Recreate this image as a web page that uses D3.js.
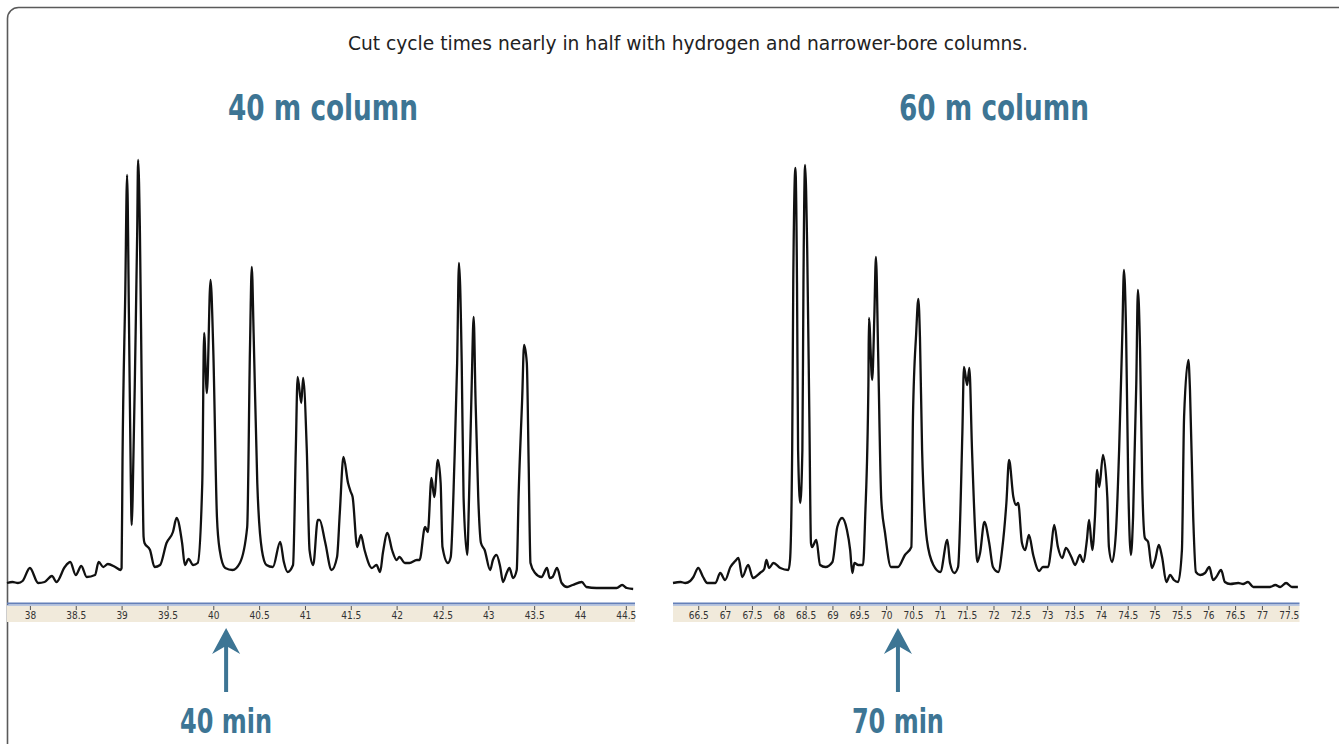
<!DOCTYPE html>
<html>
<head>
<meta charset="utf-8">
<script src="https://cdn.jsdelivr.net/npm/d3@7"></script>
<style>
  html, body { margin: 0; padding: 0; background: #fff; overflow: hidden; }
  svg { display: block; }
  .cond { font-family: "DejaVu Sans Condensed", "Liberation Sans Narrow", "Liberation Sans", sans-serif; }
</style>
</head>
<body>
<div id="chart"></div>
<script>
const headline = "Cut cycle times nearly in half with hydrogen and narrower-bore columns.";
const panelTitles = ["40 m column", "60 m column"];
const runLabels = ["40 min", "70 min"];
const arrowTimes = [40.14, 70.22];

const col40Ticks = [38, 38.5, 39, 39.5, 40, 40.5, 41, 41.5, 42, 42.5, 43, 43.5, 44, 44.5];
const col60Ticks = [66.5, 67, 67.5, 68, 68.5, 69, 69.5, 70, 70.5, 71, 71.5, 72, 72.5, 73, 73.5, 74, 74.5, 75, 75.5, 76, 76.5, 77, 77.5];

// [retention time (min), detector signal]
const col40Trace = [
  [37.75,7],[37.81,8],[37.87,7],[37.92,9],[38.00,22],[38.09,7],[38.16,8],[38.24,14],[38.29,8],[38.38,23],
  [38.44,28],[38.50,15],[38.56,24],[38.62,13],[38.71,15],[38.75,28],[38.80,23],[38.85,26],[38.93,23],[38.99,20],
  [39.00,22],[39.01,130],[39.04,297],[39.06,415],[39.08,273],[39.10,113],[39.11,65],[39.12,90],[39.15,240],[39.17,357],
  [39.18,430],[39.20,357],[39.22,197],[39.24,53],[39.25,47],[39.31,40],[39.36,23],[39.42,25],[39.49,47],[39.56,58],
  [39.60,72],[39.66,47],[39.69,25],[39.73,31],[39.78,25],[39.83,27],[39.88,107],[39.90,257],[39.93,197],[39.97,310],
  [40.00,240],[40.04,73],[40.07,40],[40.13,22],[40.21,20],[40.29,27],[40.37,63],[40.40,240],[40.42,323],[40.44,257],
  [40.48,107],[40.53,40],[40.58,25],[40.65,23],[40.73,48],[40.77,28],[40.81,18],[40.87,25],[40.90,140],[40.92,213],
  [40.96,187],[40.98,212],[41.02,140],[41.05,40],[41.09,25],[41.14,70],[41.16,70],[41.22,48],[41.29,20],[41.35,33],
  [41.38,77],[41.42,133],[41.47,107],[41.50,98],[41.52,93],[41.57,43],[41.61,55],[41.65,40],[41.73,22],[41.78,25],
  [41.82,18],[41.85,37],[41.90,57],[41.95,40],[42.00,30],[42.03,33],[42.09,27],[42.14,27],[42.22,30],[42.25,30],
  [42.31,63],[42.34,58],[42.38,112],[42.41,93],[42.45,130],[42.48,107],[42.50,43],[42.56,27],[42.59,33],[42.63,127],
  [42.66,227],[42.68,327],[42.71,227],[42.73,93],[42.77,35],[42.79,93],[42.82,210],[42.84,273],[42.86,193],[42.89,93],
  [42.92,47],[42.96,40],[43.02,20],[43.05,30],[43.09,35],[43.13,23],[43.16,8],[43.20,17],[43.23,22],[43.27,12],
  [43.31,20],[43.33,93],[43.37,193],[43.39,245],[43.42,227],[43.44,127],[43.46,27],[43.51,17],[43.58,13],[43.64,22],
  [43.67,12],[43.70,13],[43.75,22],[43.80,7],[43.86,3],[43.92,5],[44.02,8],[44.07,3],[44.18,2],[44.29,2],
  [44.40,2],[44.46,5],[44.51,2],[44.58,1]
];

// [retention time (min), detector signal]
const col60Trace = [
  [66.03,7],[66.17,8],[66.26,7],[66.35,9],[66.41,13],[66.50,22],[66.59,13],[66.67,7],[66.82,7],[66.91,17],
  [67.00,10],[67.10,23],[67.19,29],[67.25,32],[67.32,13],[67.43,25],[67.52,12],[67.65,17],[67.73,21],[67.77,30],
  [67.82,22],[67.90,27],[68.03,22],[68.18,20],[68.21,30],[68.25,140],[68.27,307],[68.31,422],[68.34,307],[68.36,140],
  [68.40,87],[68.44,140],[68.46,307],[68.49,425],[68.53,340],[68.57,173],[68.60,47],[68.62,43],[68.70,50],[68.77,25],
  [68.87,23],[69.00,28],[69.09,63],[69.18,72],[69.27,60],[69.33,40],[69.37,17],[69.41,27],[69.48,25],[69.57,25],
  [69.61,73],[69.67,207],[69.68,272],[69.74,210],[69.78,273],[69.81,333],[69.85,240],[69.91,90],[69.98,57],[70.09,23],
  [70.22,23],[70.35,35],[70.47,43],[70.50,173],[70.56,257],[70.60,291],[70.63,253],[70.67,140],[70.76,50],[70.88,25],
  [71.01,18],[71.14,50],[71.19,27],[71.27,17],[71.34,23],[71.42,157],[71.45,223],[71.51,205],[71.55,222],[71.60,140],
  [71.66,57],[71.70,28],[71.75,37],[71.83,68],[71.92,47],[71.99,23],[72.09,18],[72.16,40],[72.24,87],[72.29,130],
  [72.37,93],[72.42,85],[72.46,87],[72.53,47],[72.59,40],[72.66,55],[72.74,35],[72.85,19],[72.92,23],[73.02,23],
  [73.07,40],[73.13,65],[73.20,43],[73.28,32],[73.35,42],[73.45,33],[73.52,25],[73.61,35],[73.67,28],[73.74,50],
  [73.78,70],[73.84,40],[73.89,73],[73.93,120],[73.97,103],[74.04,135],[74.12,93],[74.15,43],[74.21,28],[74.28,57],
  [74.34,140],[74.40,257],[74.43,320],[74.47,257],[74.51,107],[74.56,35],[74.60,73],[74.66,207],[74.69,300],[74.73,240],
  [74.77,107],[74.82,52],[74.88,48],[74.95,22],[75.01,30],[75.08,45],[75.14,33],[75.22,8],[75.29,15],[75.36,10],
  [75.44,8],[75.51,40],[75.55,173],[75.63,230],[75.66,200],[75.72,73],[75.77,18],[75.85,15],[75.94,17],[76.02,23],
  [76.09,10],[76.15,13],[76.24,20],[76.31,8],[76.41,6],[76.56,7],[76.65,6],[76.74,8],[76.84,3],[77.00,3],
  [77.15,3],[77.25,5],[77.34,3],[77.45,7],[77.56,3],[77.67,3]
];

const width = 1339, height = 744;
const blue = "#3d7594";

const svg = d3.select("#chart").append("svg")
  .attr("width", width)
  .attr("height", height);

// rounded frame, runs off the right and bottom edges
svg.append("rect")
  .attr("x", 7.5).attr("y", 7.5)
  .attr("width", 1345).attr("height", 770)
  .attr("rx", 11)
  .attr("fill", "none")
  .attr("stroke", "#5a5a5a")
  .attr("stroke-width", 1.6);

svg.append("text")
  .attr("class", "cond")
  .attr("x", 688).attr("y", 50)
  .attr("text-anchor", "middle")
  .attr("textLength", 680)
  .attr("lengthAdjust", "spacingAndGlyphs")
  .style("font-size", "20px")
  .style("fill", "#222")
  .text(headline);

const y = d3.scaleLinear().domain([0, 440]).range([590, 150]);

const panels = [
  { trace: col40Trace, ticks: col40Ticks, x: d3.scaleLinear().domain([37.75, 44.6]).range([7, 635]), titleX: 323 },
  { trace: col60Trace, ticks: col60Ticks, x: d3.scaleLinear().domain([66.03, 77.7]).range([673, 1299.5]), titleX: 994 }
];

panels.forEach((p, i) => {
  const [x0, x1] = p.x.range();

  svg.append("text")
    .attr("class", "cond")
    .attr("x", p.titleX).attr("y", 120)
    .attr("text-anchor", "middle")
    .attr("textLength", 190)
    .attr("lengthAdjust", "spacingAndGlyphs")
    .style("font-size", "35px")
    .style("font-weight", "bold")
    .style("fill", blue)
    .text(panelTitles[i]);

  // time axis strip (beige band under a blue rule)
  const axisG = svg.append("g");
  axisG.append("rect")
    .attr("x", x0).attr("y", 605)
    .attr("width", x1 - x0).attr("height", 17)
    .attr("fill", "#f1eadb");
  axisG.append("line")
    .attr("x1", x0).attr("x2", x1)
    .attr("y1", 603.5).attr("y2", 603.5)
    .attr("stroke", "#6580b8").attr("stroke-width", 2);
  axisG.append("line")
    .attr("x1", x0).attr("x2", x1)
    .attr("y1", 605.5).attr("y2", 605.5)
    .attr("stroke", "#b9c6df").attr("stroke-width", 1);

  const axis = d3.axisBottom(p.x)
    .tickValues(p.ticks)
    .tickSize(4)
    .tickPadding(2)
    .tickFormat(d3.format(""));

  const ax = svg.append("g")
    .attr("transform", "translate(0,606)")
    .call(axis);
  ax.select(".domain").remove();
  ax.selectAll(".tick line").attr("stroke", "#555");
  ax.selectAll(".tick text")
    .attr("fill", "#333")
    .style("font-family", "'DejaVu Sans Condensed', 'Liberation Sans Narrow', sans-serif")
    .style("font-size", "10px");

  const line = d3.line()
    .curve(d3.curveMonotoneX)
    .x(d => p.x(d[0]))
    .y(d => y(d[1]));

  svg.append("path")
    .datum(p.trace)
    .attr("d", line)
    .attr("fill", "none")
    .attr("stroke", "#111")
    .attr("stroke-width", 2.3)
    .attr("stroke-linejoin", "round");

  // arrow pointing at the run time
  const ax0 = p.x(arrowTimes[i]);
  svg.append("path")
    .attr("d", `M${ax0},628 L${ax0 + 14},654 L${ax0 + 2},647 L${ax0 + 2},692 L${ax0 - 2},692 L${ax0 - 2},647 L${ax0 - 14},654 Z`)
    .attr("fill", blue);

  svg.append("text")
    .attr("class", "cond")
    .attr("x", ax0).attr("y", 733)
    .attr("text-anchor", "middle")
    .attr("textLength", 92)
    .attr("lengthAdjust", "spacingAndGlyphs")
    .style("font-size", "33px")
    .style("font-weight", "bold")
    .style("fill", blue)
    .text(runLabels[i]);
});
</script>
</body>
</html>
